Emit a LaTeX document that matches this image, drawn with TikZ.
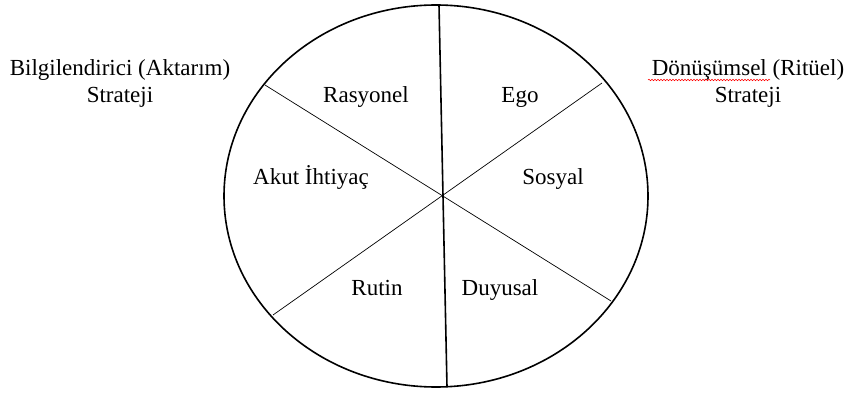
\documentclass[tikz,border=0pt]{standalone}
\usepackage{fontspec}
\setmainfont{Liberation Serif}
\usetikzlibrary{decorations.pathmorphing}

\begin{document}
\begin{tikzpicture}[x=1pt, y=-1pt, font=\fontsize{23}{27}\selectfont,
  rim/.style={line width=1.6pt},
  spoke/.style={line width=0.7pt},
  sector/.style={inner sep=0pt, anchor=base},
  strat/.style={inner sep=0pt, anchor=base, align=center}]
\useasboundingbox (0,0) rectangle (852,393);
% outer ellipse
\coordinate (c) at (436,196);
\draw[rim] (c) ellipse [x radius=212pt, y radius=191pt];
% end points of the dividing lines
\coordinate (top) at (439,5);
\coordinate (bot) at (447,387);
\coordinate (ul) at (265,85);
\coordinate (lr) at (611,301);
\coordinate (ur) at (602,83);
\coordinate (ll) at (273,315);
\draw[rim] (top) -- (bot);
\draw[spoke] (ul) -- (lr);
\draw[spoke] (ur) -- (ll);
% sector labels
\node[sector] (ras) at (366,103) {Rasyonel};
\node[sector] (ego) at (520,103) {Ego};
\node[sector] (akut) at (311,185) {Akut İhtiyaç};
\node[sector] (sos) at (553,185) {Sosyal};
\node[sector] (rut) at (377,295) {Rutin};
\node[sector] (duy) at (500,295) {Duyusal};
% the two strategies (base = last line)
\node[strat] (bilgi) at (120,103) {Bilgilendirici (Aktarım)\\Strateji};
\node[strat] (donus) at (748,103) {Dönüşümsel (Ritüel)\\Strateji};
\draw[red, line width=0.5pt, decorate, decoration={snake, amplitude=0.8pt, segment length=3pt}]
  (648,80) -- (770,80);
\end{tikzpicture}
\end{document}
